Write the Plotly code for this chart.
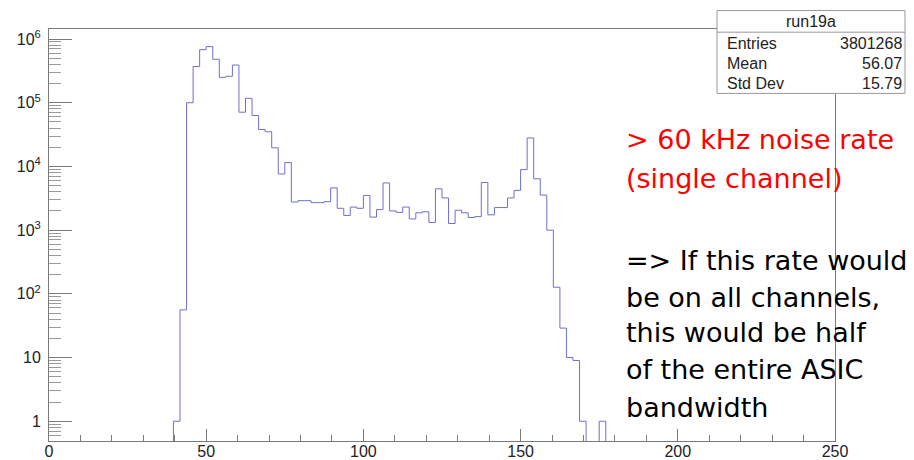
import numpy as np
import plotly.graph_objects as go

# ---- histogram definition (ROOT TH1, 120 bins on [0, 250]) ----
x_min, x_max, n_bins = 0.0, 250.0, 120
first_bin = 19  # index of first listed bin
counts = [1, 56, 100000, 370000, 680000, 760000, 480000, 250000, 260000, 390000,
          71000, 117000, 63000, 38000, 35000, 19600, 7600, 11500, 2760, 2900,
          2900, 2700, 2700, 2800, 4600, 2200, 1700, 2300, 2200, 3500,
          1600, 2100, 5500, 2000, 1900, 2300, 1500, 1870, 1940, 1320,
          4450, 3200, 1270, 2050, 1870, 1580, 1630, 5600, 1740, 2260,
          2260, 3200, 4200, 8900, 28000, 6400, 3550, 1000, 127, 29,
          10, 9, 1, 0, 0, 1]

stats_title = "run19a"
stats_labels = ["Entries", "Mean", "Std Dev"]
stats_values = ["3801268", "56.07", "15.79"]

red_lines = ["> 60 kHz noise rate", "(single channel)"]
black_lines = ["=> If this rate would", "be on all channels,", "this would be half",
               "of the entire ASIC", "bandwidth"]

y_tickvals = [1, 10, 100, 1000, 10000, 100000, 1000000]
y_ticktext = ["1", "10", "10<sup>2</sup>", "10<sup>3</sup>", "10<sup>4</sup>",
              "10<sup>5</sup>", "10<sup>6</sup>"]

# ---- build step outline ----
width = (x_max - x_min) / n_bins
edges = x_min + width * np.arange(first_bin, first_bin + len(counts) + 1)
tiny = 1e-3
vals = np.array(counts, dtype=float)
vals[vals <= 0] = tiny
xs = np.concatenate([[edges[0]], edges[:-1], [edges[-1]]])
ys = np.concatenate([[tiny], vals, [tiny]])

fig = go.Figure()
fig.add_trace(go.Scatter(x=xs, y=ys, mode="lines", line_shape="hv",
                         line=dict(color="#6f6fcc", width=1), hoverinfo="skip",
                         showlegend=False))

# ---- layout geometry (page pixels; page body has an 8px margin) ----
OFF = 8
W, H = 914 - OFF, 460 - OFF
L, R, T, B = 49 - OFF, 835 - OFF, 28.5 - OFF, 441 - OFF


def px(xp):
    return (xp - OFF - L) / (R - L)


def py(yp):
    return (B - (yp - OFF)) / (B - T)


axis_col = "#7a7a7a"
font_tick = dict(family="Liberation Sans, Arial, sans-serif", size=16, color="#222")

fig.update_layout(
    template="none",
    width=W, height=H,
    margin=dict(l=L, r=W - R, t=T, b=H - B, autoexpand=False),
    paper_bgcolor="white", plot_bgcolor="white",
    showlegend=False,
    xaxis=dict(range=[x_min, x_max], showgrid=False, zeroline=False, automargin=False,
               showline=True, mirror=True, linecolor=axis_col, linewidth=1,
               ticks="inside", ticklen=12, tickcolor=axis_col, dtick=50, tick0=0,
               tickfont=font_tick, ticklabelstandoff=-4,
               minor=dict(ticks="inside", ticklen=6, dtick=10, tickcolor=axis_col,
                          showgrid=False)),
    yaxis=dict(type="log", range=[-0.31, 6.157], showgrid=False, zeroline=False,
               automargin=False,
               showline=True, mirror=True, linecolor=axis_col, linewidth=1,
               ticks="inside", ticklen=23, tickcolor=axis_col,
               tickvals=y_tickvals, ticktext=y_ticktext, tickfont=font_tick,
               ticklabelstandoff=4,
               minor=dict(ticks="inside", ticklen=12, dtick="D1", tickcolor="#9a9a9a",
                          showgrid=False)),
)

# ---- stats box ----
bx0, bx1, by0, by1 = 717, 905, 10, 93
fig.add_shape(type="rect", xref="paper", yref="paper",
              x0=px(bx0), x1=px(bx1), y0=py(by1), y1=py(by0),
              line=dict(color="#999", width=1), fillcolor="white", layer="above")
fig.add_shape(type="line", xref="paper", yref="paper",
              x0=px(bx0), x1=px(bx1), y0=py(31.7), y1=py(31.7),
              line=dict(color="#999", width=1), layer="above")
font_stats = dict(family="Liberation Sans, Arial, sans-serif", size=16, color="#222")
fig.add_annotation(xref="paper", yref="paper", x=px((bx0 + bx1) / 2), y=py(21),
                   text=stats_title, showarrow=False, xanchor="center",
                   yanchor="middle", font=font_stats)
for i, (lab, val) in enumerate(zip(stats_labels, stats_values)):
    yy = py(42.7 + 20 * i)
    fig.add_annotation(xref="paper", yref="paper", x=px(725), y=yy, text=lab,
                       showarrow=False, xanchor="left", yanchor="middle",
                       font=font_stats)
    fig.add_annotation(xref="paper", yref="paper", x=px(904), y=yy, text=val,
                       showarrow=False, xanchor="right", yanchor="middle",
                       font=font_stats)

# ---- overlay text ----
font_big = dict(family="DejaVu Sans, sans-serif", size=27)
red_base = [147.3, 186.0]
black_base = [268.3, 305.0, 340.7, 377.3, 415.0]
for txt, b in zip(red_lines, red_base):
    fig.add_annotation(xref="paper", yref="paper", x=px(624), y=py(b - 8),
                       text=txt, showarrow=False, xanchor="left", yanchor="middle",
                       font=dict(font_big, color="#ff0000"))
for txt, b in zip(black_lines, black_base):
    fig.add_annotation(xref="paper", yref="paper", x=px(624), y=py(b - 8),
                       text=txt, showarrow=False, xanchor="left", yanchor="middle",
                       font=dict(font_big, color="#000000"))

fig.write_html("out.html")
